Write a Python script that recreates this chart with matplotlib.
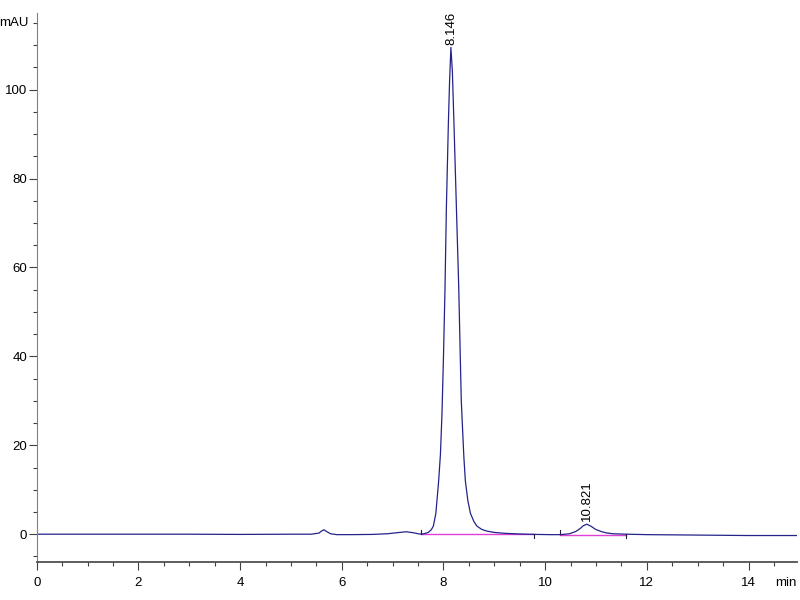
import matplotlib
matplotlib.use("Agg")
import matplotlib.pyplot as plt
from matplotlib.ticker import MultipleLocator

plt.rcParams['font.family'] = ['Liberation Sans', 'DejaVu Sans']

# chromatogram trace (time in min, signal in mAU)
time_min = [0.0, 1.0, 2.0, 3.0, 4.0, 5.0, 5.4, 5.55, 5.6, 5.65, 5.7, 5.78,
            5.9, 6.2, 6.6, 6.9, 7.1, 7.27, 7.42, 7.52, 7.6, 7.7, 7.76, 7.8,
            7.85, 7.905, 7.94, 7.97, 8.0, 8.03, 8.057, 8.096, 8.12, 8.146,
            8.175, 8.206, 8.254, 8.30, 8.33, 8.35, 8.40, 8.43, 8.48, 8.53,
            8.6, 8.66, 8.75, 8.85, 9.0, 9.2, 9.5, 9.8, 10.1, 10.3, 10.48, 10.6,
            10.68, 10.75, 10.82, 10.9, 10.99, 11.1, 11.2, 11.33, 11.6, 12.0,
            13.0, 14.0, 14.95]
signal_mau = [0.0, 0.0, 0.0, 0.0, -0.05, 0.0, 0.0, 0.25, 0.7, 1.0, 0.6, 0.1,
              -0.1, -0.1, -0.05, 0.1, 0.35, 0.55, 0.3, 0.05, 0.05, 0.4, 1.0, 1.8,
              4.7, 12.0, 18.0, 27.0, 40.0, 55.5, 73.5, 92.4, 102.0, 109.5,
              104.0, 92.4, 73.5, 55.5, 40.0, 30.0, 17.5, 12.0, 7.5, 4.7,
              2.8, 1.8, 1.1, 0.7, 0.4, 0.2, 0.05, -0.05, -0.1, -0.1, 0.1, 0.6,
              1.2, 1.9, 2.25, 1.8, 1.1, 0.6, 0.3, 0.1, 0.0, -0.1,
              -0.2, -0.3, -0.3]

# integration baselines and event marks
base_start = [7.56, 10.29]
base_end = [9.79, 11.6]
base_level = [-0.05, -0.1]
event_times = [7.56, 9.79, 10.29, 11.6]
event_dir = [1, -1, 1, -1]

peak_rt = [8.146, 10.821]
peak_height = [109.5, 2.25]
peak_labels = ["8.146", "10.821"]

fig = plt.figure(figsize=(8, 6), dpi=100)
ax = fig.add_axes([0.046, 0.063, 0.95, 0.915])

ax.plot(time_min, signal_mau, color='#23238a', linewidth=0.9)

for x0, x1, yb in zip(base_start, base_end, base_level):
    ax.plot([x0, x1], [yb, yb], color='#e040d8', linewidth=1.0, zorder=1)
for t, d in zip(event_times, event_dir):
    ax.plot([t, t], [0, d * 0.9], color='#202040', linewidth=0.8)

for rt, h, lab in zip(peak_rt, peak_height, peak_labels):
    ax.annotate(lab, xy=(rt, h), xytext=(0, 2), textcoords='offset points',
                rotation=90, ha='center', va='bottom', fontsize=9.5)

ax.set_xlim(0, 14.95)
ax.set_ylim(-6.3, 117.2)

ax.xaxis.set_major_locator(MultipleLocator(2))
ax.xaxis.set_minor_locator(MultipleLocator(0.5))
ax.yaxis.set_major_locator(MultipleLocator(20))
ax.yaxis.set_minor_locator(MultipleLocator(5))

for s in ['top', 'right']:
    ax.spines[s].set_visible(False)
ax.spines['left'].set_color('#808080')
ax.spines['left'].set_linewidth(0.8)
ax.spines['bottom'].set_color('#505050')
ax.spines['bottom'].set_linewidth(1.3)

ax.tick_params(axis='both', which='major', length=6, width=0.8,
               colors='#404040', labelcolor='black', labelsize=9.5)
ax.tick_params(axis='both', which='minor', length=3, width=0.8, colors='#404040')
ax.tick_params(axis='x', which='major', pad=5)
ax.tick_params(axis='y', which='major', pad=1)

ax.text(-0.011, 115, "mAU", transform=ax.get_yaxis_transform(),
        ha='right', va='center', fontsize=9.5)
ax.text(0.999, -0.027, "min", transform=ax.transAxes,
        ha='right', va='top', fontsize=9.5)

fig.savefig("out.png", dpi=100)
